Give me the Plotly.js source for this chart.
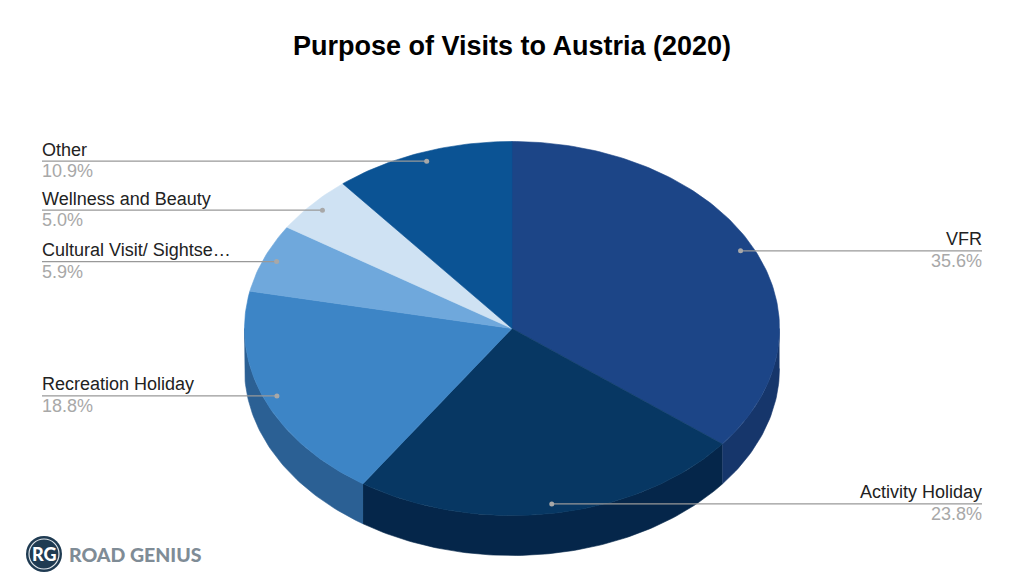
<!DOCTYPE html>
<html>
<head>
<meta charset="utf-8">
<script src="https://cdn.plot.ly/plotly-3.0.1.min.js"></script>
<style>html,body{margin:0;padding:0;background:#fff;overflow:hidden}#chart{width:1024px;height:582px}</style>
</head>
<body>
<div id="chart"></div>
<script>
const categories = ["VFR", "Activity Holiday", "Recreation Holiday", "Cultural Visit/ Sightse…", "Wellness and Beauty", "Other"];
const values = [35.6, 23.8, 18.8, 5.9, 5.0, 10.9];
const topColors = ["#1c4587", "#073763", "#3d85c6", "#6fa8dc", "#cfe2f3", "#0b5394"];
const sideColors = ["#16366b", "#05264a", "#2b6094", "#4f7aa3", "#97a5b2", "#083c6c"];

const cx = 512, cy = 328.5, rx = 267.5, ry = 187, depth = 40, leaderR = 0.95;
const font = "Liberation Sans, Arial, sans-serif";
const total = values.reduce((a, b) => a + b, 0);
const pt = (deg, r, dy) => {
  const t = deg * Math.PI / 180;
  return [cx + rx * r * Math.sin(t), cy - ry * r * Math.cos(t) + (dy || 0)];
};
const arc = (a, b, dy) => {
  const n = Math.max(2, Math.ceil(Math.abs(b - a)));
  const out = [];
  for (let i = 0; i <= n; i++) out.push(pt(a + (b - a) * i / n, 1, dy));
  return out;
};
const polyTrace = (pts, color) => ({
  type: "scatter", mode: "lines", x: pts.map(p => p[0]), y: pts.map(p => p[1]),
  fill: "toself", fillcolor: color, line: { color: color, width: 0.6 },
  hoverinfo: "skip", showlegend: false
});

const walls = [], tops = [], leaders = [], annotations = [];
let cum = 0;
values.forEach((v, i) => {
  const a = cum / total * 360, b = (cum + v) / total * 360;
  cum += v;
  const la = Math.max(a, 90), lb = Math.min(b, 270);
  if (lb > la) {
    walls.push(polyTrace(arc(la, lb, 0).concat(arc(lb, la, depth)), sideColors[i]));
  }
  tops.push(polyTrace([[cx, cy]].concat(arc(a, b, 0), [[cx, cy]]), topColors[i]));

  const mid = (a + b) / 2;
  const anchor = pt(mid, leaderR);
  const right = mid < 180;
  const edge = right ? 982 : 42;
  leaders.push({
    type: "scatter", mode: "lines", x: [edge, anchor[0]], y: [anchor[1], anchor[1]],
    line: { color: "#999999", width: 1.3 }, hoverinfo: "skip", showlegend: false
  });
  leaders.push({
    type: "scatter", mode: "markers", x: [anchor[0]], y: [anchor[1]],
    marker: { color: "#a8a8a8", size: 5 }, hoverinfo: "skip", showlegend: false
  });
  annotations.push({
    xref: "x", yref: "y", x: edge, y: anchor[1] - 11.5, text: categories[i], showarrow: false,
    xanchor: right ? "right" : "left", yanchor: "middle", xshift: right ? 2 : -2,
    font: { family: font, size: 18, color: "#222222" }
  });
  annotations.push({
    xref: "x", yref: "y", x: edge, y: anchor[1] + 10, text: v.toFixed(1) + "%", showarrow: false,
    xanchor: right ? "right" : "left", yanchor: "middle", xshift: right ? 2 : -2,
    font: { family: font, size: 18, color: "#a8a8a8" }
  });
});

const logo = {
  type: "scatter", mode: "markers", x: [44], y: [554],
  marker: { color: "#1f3b52", size: 36, line: { width: 0 } },
  hoverinfo: "skip", showlegend: false
};
const logoRing = {
  type: "scatter", mode: "markers", x: [44], y: [554],
  marker: { symbol: "circle-open", color: "#dfe5ea", size: 30, line: { color: "#dfe5ea", width: 1.2 } },
  hoverinfo: "skip", showlegend: false
};
annotations.push({
  xref: "x", yref: "y", x: 44, y: 554, text: "RG", showarrow: false,
  xanchor: "center", yanchor: "middle",
  font: { family: "Lato, sans-serif", size: 18, weight: 900, color: "#ffffff" }
});
annotations.push({
  xref: "x", yref: "y", x: 67, y: 554, text: "ROAD GENIUS", showarrow: false,
  xanchor: "left", yanchor: "middle",
  font: { family: "Lato, sans-serif", size: 19.5, weight: 900, color: "#7f8c96" }
});

Plotly.newPlot("chart", walls.concat(tops, leaders, [logo, logoRing]), {
  width: 1024, height: 582,
  margin: { l: 0, r: 0, t: 0, b: 0 },
  paper_bgcolor: "#ffffff", plot_bgcolor: "#ffffff",
  title: {
    text: "<b>Purpose of Visits to Austria (2020)</b>",
    x: 0.5, xanchor: "center", y: 0.921, yanchor: "middle",
    font: { family: font, size: 27, color: "#000000" }
  },
  xaxis: { range: [0, 1024], visible: false, fixedrange: true },
  yaxis: { range: [582, 0], visible: false, fixedrange: true },
  annotations: annotations,
  hovermode: false
}, { displayModeBar: false, staticPlot: true });
</script>
</body>
</html>
